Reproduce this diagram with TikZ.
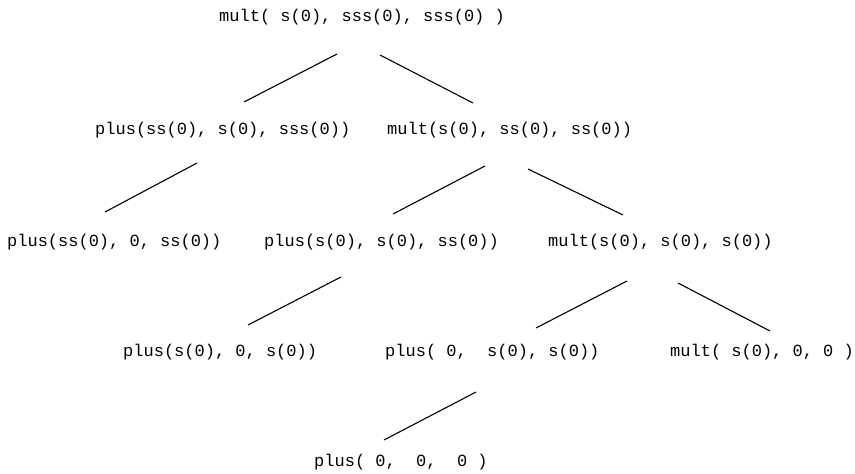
\documentclass[tikz,border=0pt]{standalone}
\usepackage{fontspec}
\setmonofont{Liberation Mono}
\begin{document}
\begin{tikzpicture}[x=1pt,y=-1pt,
  term/.style={anchor=west,inner sep=0pt,font=\ttfamily\fontsize{17}{20}\selectfont},
  edge/.style={line width=1.1pt}]
\useasboundingbox (0,0) rectangle (855,474);
\node[term] (r)   at (219,17)  {mult(\ s(0),\ sss(0),\ sss(0)\ )};
\node[term] (a2)  at (95,130)  {plus(ss(0),\ s(0),\ sss(0))};
\node[term] (b2)  at (387,130) {mult(s(0),\ ss(0),\ ss(0))};
\node[term] (a3)  at (7,242)   {plus(ss(0),\ 0,\ ss(0))};
\node[term] (b3)  at (264,242) {plus(s(0),\ s(0),\ ss(0))};
\node[term] (c3)  at (548,242) {mult(s(0),\ s(0),\ s(0))};
\node[term] (a4)  at (123,352) {plus(s(0),\ 0,\ s(0))};
\node[term] (b4)  at (385,352) {plus(\ 0,\ \ s(0),\ s(0))};
\node[term] (c4)  at (670,352) {mult(\ s(0),\ 0,\ 0\ )};
\node[term] (a5)  at (314,462) {plus(\ 0,\ \ 0,\ \ 0\ )};
\coordinate (e1a) at (337,54);  \coordinate (e1b) at (244,102);
\coordinate (e2a) at (380,55);  \coordinate (e2b) at (473,103);
\coordinate (e3a) at (197,163); \coordinate (e3b) at (105,212);
\coordinate (e4a) at (485,166); \coordinate (e4b) at (393,214);
\coordinate (e5a) at (528,169); \coordinate (e5b) at (623,215);
\coordinate (e6a) at (341,277); \coordinate (e6b) at (248,325);
\coordinate (e7a) at (627,281); \coordinate (e7b) at (536,328);
\coordinate (e8a) at (678,283); \coordinate (e8b) at (770,331);
\coordinate (e9a) at (476,392); \coordinate (e9b) at (384,440);
\foreach \e in {1,...,9} \draw[edge] (e\e a) -- (e\e b);
\end{tikzpicture}
\end{document}
